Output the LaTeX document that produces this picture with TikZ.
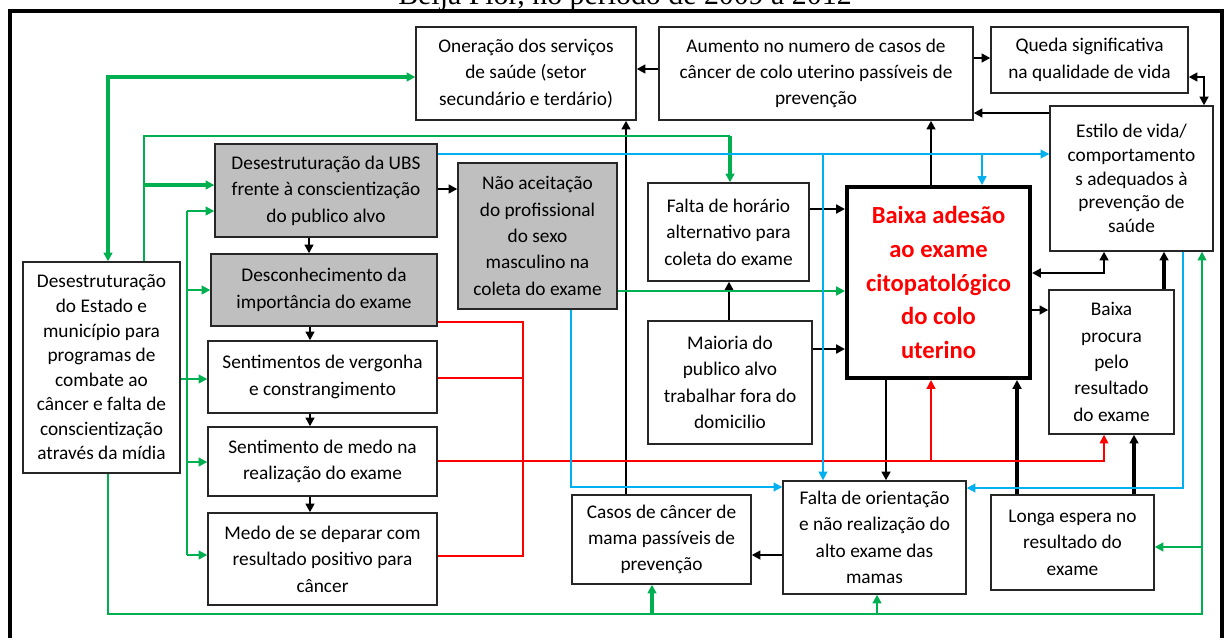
\documentclass[tikz,border=0pt]{standalone}
\usepackage{fontspec}
\setmainfont{Carlito}
\newfontfamily\titlefont{Liberation Serif}
\usetikzlibrary{arrows.meta, positioning}

\definecolor{boxgray}{RGB}{191,191,191}
\definecolor{lgreen}{RGB}{0,176,80}
\definecolor{lblue}{RGB}{0,176,240}

\tikzset{
  box/.style={draw=black!85, line width=.8pt, fill=white, align=center, inner sep=0pt, font=\fontsize{11}{15}\selectfont},
  grbox/.style={box, fill=boxgray},
  blk/.style={->, line width=1.4pt},
  blkthick/.style={->, line width=2.4pt},
  redl/.style={draw=red, line width=.9pt},
  grthin/.style={draw=lgreen, line width=.9pt},
  grmid/.style={draw=lgreen, line width=1.2pt},
  grthick/.style={draw=lgreen, line width=1.8pt},
  blul/.style={draw=lblue, line width=1pt},
  >={Triangle[length=5pt,width=5pt]}
}

\begin{document}
\begin{tikzpicture}[x=0.02cm, y=-0.02cm]
  \useasboundingbox (0,0) rectangle (1226,637);
  \fill[white] (0,0) rectangle (1226,637);

    % titulo (cortado) e moldura
  \node[font=\titlefont\fontsize{17}{20}\selectfont, anchor=base] (titulo) at (625,4) {Beija Flor, no período de 2009 a 2012};
  \draw[line width=2.3pt] (10,680) -- (10,11) -- (1222,11) -- (1222,680);

    % linha de cima
  \node[box, minimum width=4.40cm, minimum height=1.86cm] (onera) at (526,73.5)
    {Oneração dos serviços\\de saúde (setor\\secundário e terdário)};
  \node[box, minimum width=6.28cm, minimum height=1.86cm] (aumento) at (816,73.5)
    {Aumento no numero de casos de\\câncer de colo uterino passíveis de\\prevenção};
  \node[box, minimum width=3.94cm, minimum height=1.32cm] (queda) at (1089.5,60)
    {Queda significativa\\na qualidade de vida};
  \node[box, minimum width=3.26cm, minimum height=2.90cm, font=\fontsize{11}{13.5}\selectfont] (estilo) at (1131.5,178.5)
    {Estilo de vida/\\comportamento\\s adequados à\\prevenção de\\saúde};

    % coluna da esquerda
  \node[grbox, minimum width=4.44cm, minimum height=1.86cm] (ubs) at (326,190.5)
    {Desestruturação da UBS\\frente à conscientização\\do publico alvo};
  \node[grbox, minimum width=3.18cm, minimum height=2.92cm] (naoaceit) at (537.5,236)
    {Não aceitação\\do profissional\\do sexo\\masculino na\\coleta do exame};
  \node[grbox, minimum width=4.52cm, minimum height=1.44cm] (descon) at (324,290)
    {Desconhecimento da\\importância do exame};
  \node[box, minimum width=4.58cm, minimum height=1.44cm] (vergonha) at (322.5,377)
    {Sentimentos de vergonha\\e constrangimento};
  \node[box, minimum width=4.58cm, minimum height=1.38cm] (medo) at (322.5,461.5)
    {Sentimento de medo na\\realização do exame};
  \node[box, minimum width=4.58cm, minimum height=1.84cm] (deparar) at (322.5,559)
    {Medo de se deparar com\\resultado positivo para\\câncer};
  \node[box, minimum width=3.14cm, minimum height=4.22cm, font=\fontsize{11}{14}\selectfont] (estado) at (101.5,367.5)
    {Desestruturação\\do Estado e\\município para\\programas de\\combate ao\\câncer e falta de\\conscientização\\através da mídia};

    % centro
  \node[box, minimum width=3.22cm, minimum height=1.96cm] (horario) at (728.5,232)
    {Falta de horário\\alternativo para\\coleta do exame};
  \node[box, minimum width=3.28cm, minimum height=2.46cm] (maioria) at (730,382.5)
    {Maioria do\\publico alvo\\trabalhar fora do\\domicilio};
  \node[box, draw=black, line width=2.3pt, minimum width=3.66cm, minimum height=3.82cm, text=red,
        font=\fontsize{14}{19.3}\selectfont\bfseries] (baixa) at (938.5,282.5)
    {Baixa adesão\\ao exame\\citopatológico\\do colo\\uterino};
  \node[box, minimum width=2.50cm, minimum height=2.88cm] (procura) at (1111.5,362)
    {Baixa\\procura\\pelo\\resultado\\do exame};

    % linha de baixo
  \node[box, minimum width=3.58cm, minimum height=1.78cm] (mama) at (661.5,539.5)
    {Casos de câncer de\\mama passíveis de\\prevenção};
  \node[box, minimum width=3.66cm, minimum height=2.26cm] (orient) at (874.5,537.5)
    {Falta de orientação\\e não realização do\\alto exame das\\mamas};
  \node[box, minimum width=3.26cm, minimum height=1.90cm] (espera) at (1072.5,542.5)
    {Longa espera no\\resultado do\\exame};

    % pontos de ramificacao
  \coordinate (gtopo) at (730,136);
  \coordinate (gubs) at (144,185);
  \coordinate (bus1) at (187,211);
  \coordinate (bus2) at (187,290);
  \coordinate (bus3) at (187,462);
  \coordinate (bus4) at (187,555);
  \coordinate (gmama) at (652,614);
  \coordinate (gorient) at (877,614);
  \coordinate (gespera) at (1202,547);
  \coordinate (rjunta) at (523,461);
  \coordinate (rbaixa) at (931,461);
  \coordinate (azul1) at (982,154);
  \coordinate (azul2) at (823,154);

    % setas pretas
  \draw[blk] (aumento.west |- 0,69) -- (onera.east |- 0,69);
  \draw[blk] (aumento.east |- 0,58) -- (queda.west |- 0,58);
  \draw[blk,<->] (queda.east |- 0,77) -| (estilo.north -| 1204,0);
  \draw[blk] (estilo.west |- 0,113) -- (aumento.east |- 0,113);
  \draw[blk] (baixa.north -| 931,0) -- (aumento.south -| 931,0);
  \draw[blk] (mama.north -| 626,0) -- (onera.south -| 626,0);
  \draw[blk] (ubs.east |- 0,189) -- (naoaceit.west |- 0,189);
  \draw[blk] (ubs.south -| 309,0) -- (descon.north -| 309,0);
  \draw[blk] (descon.south -| 310,0) -- (vergonha.north -| 310,0);
  \draw[blk] (vergonha.south -| 310,0) -- (medo.north -| 310,0);
  \draw[blk] (medo.south -| 310,0) -- (deparar.north -| 310,0);
  \draw[blk] (horario.east |- 0,209) -- (baixa.west |- 0,209);
  \draw[blk] (maioria.east |- 0,349) -- (baixa.west |- 0,349);
  \draw[blk] (maioria.north -| 729,0) -- (horario.south -| 729,0);
  \draw[blk,<->] (baixa.east |- 0,273) -| (estilo.south -| 1104,0);
  \draw[blk] (baixa.east |- 0,310) -- (procura.west |- 0,310);
  \draw[blkthick] (procura.north -| 1164,0) -- (estilo.south -| 1164,0);
  \draw[blkthick] (espera.north -| 1017,0) -- (baixa.south -| 1017,0);
  \draw[blkthick] (espera.north -| 1134,0) -- (procura.south -| 1134,0);
  \draw[blk] (baixa.south -| 886,0) -- (orient.north -| 886,0);
  \draw[blk] (orient.west |- 0,555) -- (mama.east |- 0,555);

    % linhas vermelhas
  \draw[redl] (descon.east |- 0,322) -| (rjunta) |- (deparar.east |- 0,556);
  \draw[redl] (vergonha.east |- 0,378) -- (rjunta |- 0,378);
  \draw[redl,->] (medo.east |- 0,461) -| (procura.south -| 1104,0);
  \draw[redl,->] (rbaixa) -- (baixa.south -| 931,0);

    % linhas verdes
  \draw[grthick,<->] (onera.west |- 0,77) -| (estado.north -| 108,0);
  \draw[grthin] (estado.north -| 144,0) |- (gtopo);
  \draw[grthick,->] (gtopo) -- (horario.north -| 730,0);
  \draw[grthick,->] (gubs) -- (ubs.west |- gubs);
  \draw[grmid] (bus1) -- (bus4);
  \draw[grmid,->] (bus1) -- (ubs.west |- bus1);
  \draw[grmid,->] (bus2) -- (descon.west |- bus2);
  \draw[grmid,->] (estado.east |- 0,379) -- (vergonha.west |- 0,379);
  \draw[grmid,->] (bus3) -- (medo.west |- bus3);
  \draw[grmid,->] (bus4) -- (deparar.west |- bus4);
  \draw[grthin,->] (estado.south -| 108,0) |- (1202,614) -- (estilo.south -| 1202,0);
  \draw[grthick,->] (gmama) -- (mama.south -| gmama);
  \draw[grmid,->] (gorient) -- (orient.south -| gorient);
  \draw[grmid,->] (gespera) -- (espera.east |- gespera);
  \draw[grmid,->] (naoaceit.east |- 0,291) -- (baixa.west |- 0,291);

    % linhas azuis
  \draw[blul,->] (ubs.east |- 0,154) -- (estilo.west |- 0,154);
  \draw[blul,->] (azul1) -- (baixa.north -| azul1);
  \draw[blul,->] (azul2) -- (orient.north -| azul2);
  \draw[blul,->] (naoaceit.south -| 571,0) |- (orient.west |- 0,487);
  \draw[blul,->] (estilo.south -| 1183,0) |- (orient.east |- 0,488);

\end{tikzpicture}
\end{document}
